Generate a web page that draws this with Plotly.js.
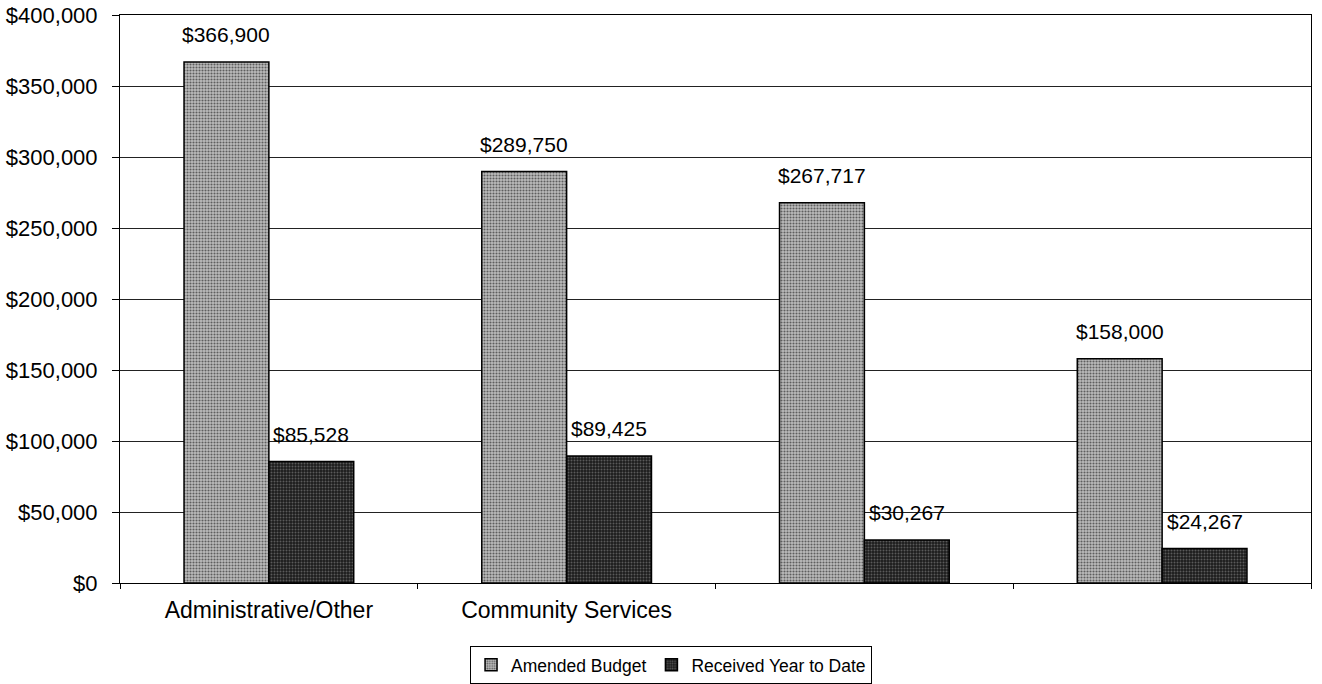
<!DOCTYPE html>
<html>
<head>
<meta charset="utf-8">
<script src="https://cdn.plot.ly/plotly-3.0.1.min.js"></script>
<style>html,body{margin:0;padding:0;background:#fff;}#chart{width:1322px;height:684px;}</style>
</head>
<body>
<div id="chart"></div>
<script>
const categoryIds = ["Administrative/Other", "Community Services", "cat3", "cat4"];
const categoryLabels = ["Administrative/Other", "Community Services", "", ""];
const amendedBudget = [366900, 289750, 267717, 158000];
const receivedYTD = [85528, 89425, 30267, 24267];
const seriesNames = ["Amended Budget", "Received Year to Date"];
const yTicks = [0, 50000, 100000, 150000, 200000, 250000, 300000, 350000, 400000];

const fontFamily = "Liberation Sans, Arial, sans-serif";

const traces = [
  {
    type: "bar", name: seriesNames[0], x: categoryIds, y: amendedBudget,
    marker: {color: "#a9a9a9", line: {color: "#000", width: 1.5},
      pattern: {shape: ".", fgcolor: "#5e5e5e", bgcolor: "#bdbdbd", size: 3, solidity: 0.4}},
    hoverinfo: "none"
  },
  {
    type: "bar", name: seriesNames[1], x: categoryIds, y: receivedYTD,
    marker: {color: "#2e2e2e", line: {color: "#000", width: 1.5},
      pattern: {shape: ".", fgcolor: "#5a5a5a", bgcolor: "#1c1c1c", size: 3, solidity: 0.35}},
    hoverinfo: "none"
  }
];

const fmt = v => "$" + v.toLocaleString("en-US");
const annotations = [];
categoryIds.forEach((c, i) => {
  annotations.push({x: c, y: amendedBudget[i], xshift: -42.5, text: fmt(amendedBudget[i]), showarrow: false, yanchor: "bottom", yshift: 14, font: {size: 21, color: "#000", family: fontFamily}});
  annotations.push({x: c, y: receivedYTD[i], xshift: 42.5, text: fmt(receivedYTD[i]), showarrow: false, yanchor: "bottom", yshift: 14, font: {size: 21, color: "#000", family: fontFamily}});
});

const layout = {
  width: 1322, height: 684,
  margin: {l: 120, r: 11, t: 15, b: 101},
  paper_bgcolor: "#fff", plot_bgcolor: "#fff",
  font: {family: fontFamily, color: "#000", size: 17},
  barmode: "group", bargap: 0.43, bargroupgap: 0,
  showlegend: true,
  legend: {orientation: "h", xref: "container", yref: "container", x: 0.5076, xanchor: "center", y: 0.0556, yanchor: "top",
    bordercolor: "#000", borderwidth: 1, font: {size: 17.5, family: fontFamily},
    itemwidth: 30, traceorder: "normal"},
  xaxis: {type: "category", tickmode: "array", tickvals: categoryIds, ticktext: categoryLabels,
    tickson: "boundaries", ticks: "outside", ticklen: 5, tickcolor: "#000",
    ticklabelstandoff: 6, automargin: false,
    showline: true, linecolor: "#000", linewidth: 1, mirror: true, showgrid: false,
    tickfont: {size: 23}},
  yaxis: {range: [0, 400000], tickmode: "array", tickvals: yTicks, tickformat: "$,.0f",
    ticks: "outside", ticklen: 7, tickcolor: "#000", ticklabelstandoff: 10, automargin: false,
    showline: true, linecolor: "#000", linewidth: 1, mirror: true,
    showgrid: true, gridcolor: "#222", gridwidth: 1, zeroline: false,
    tickfont: {size: 22}},
  annotations: annotations
};

Plotly.newPlot("chart", traces, layout, {displayModeBar: false, staticPlot: true});
</script>
</body>
</html>
